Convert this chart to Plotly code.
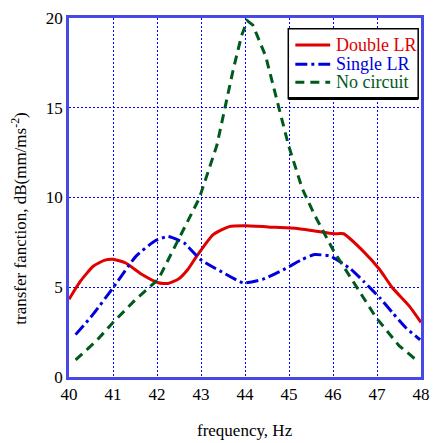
import plotly.graph_objects as go

# Double LR
red_f = [40.0, 40.26, 40.55, 40.8, 41.0, 41.29, 41.66, 42.03, 42.25, 42.48, 42.70, 42.90, 43.27, 43.64,
         44.01, 44.68, 45.14, 45.58, 46.02, 46.24, 46.69, 47.06, 47.35, 47.73, 48.0]
red_v = [4.33, 5.34, 6.17, 6.5, 6.56, 6.35, 5.71, 5.25, 5.21, 5.44, 5.99, 6.72, 7.92, 8.38,
         8.42, 8.34, 8.29, 8.14, 7.98, 7.98, 7.0, 5.99, 4.97, 3.96, 3.04]

# Single LR
blue_f = [40.15, 40.55, 41.0, 41.52, 41.96, 42.25, 42.62, 42.99, 43.44, 43.96, 44.40, 44.92,
          45.29, 45.58, 45.95, 46.39, 46.69, 47.06, 47.35, 47.65, 47.98]
blue_v = [2.36, 3.5, 4.97, 6.72, 7.59, 7.83, 7.46, 6.54, 5.9, 5.25, 5.44, 6.04,
          6.54, 6.82, 6.72, 6.04, 5.34, 4.42, 3.59, 2.76, 2.07]

# No circuit
green_f = [40.15, 40.63, 41.0, 41.52, 42.03, 42.4, 42.7, 42.96, 43.36, 43.55, 43.73, 43.92, 44.05,
           44.18, 44.47, 44.77, 44.99, 45.3, 45.58, 46.02, 46.54, 46.98, 47.5, 47.95]
green_v = [0.95, 2.03, 3.04, 4.33, 5.44, 7.2, 8.7, 9.95, 12.9, 15.0, 17.1, 19.0, 19.85,
           19.6, 17.87, 15.0, 12.9, 10.5, 9.03, 7.0, 4.97, 3.31, 1.75, 0.83]

series_names = ["Double LR", "Single LR", "No circuit"]
colors = ["#e00000", "#0000dd", "#005a1e"]
dashes = ["solid", "12px,4px,3px,4px", "9px,6px"]

x_ticks = [40, 41, 42, 43, 44, 45, 46, 47, 48]
y_ticks = [0, 5, 10, 15, 20]
x_title = "frequency, Hz"
y_title = "transfer fanction, dB(mm/ms<sup>-2</sup>)"

font = "Liberation Serif, Times New Roman, serif"

fig = go.Figure()
fig.add_trace(go.Scatter(x=red_f, y=red_v, mode="lines", name=series_names[0],
                         line=dict(color=colors[0], width=3, shape="spline", smoothing=0.5)))
fig.add_trace(go.Scatter(x=blue_f, y=blue_v, mode="lines", name=series_names[1],
                         line=dict(color=colors[1], width=3, dash=dashes[1],
                                   shape="spline", smoothing=0.5)))
fig.add_trace(go.Scatter(x=green_f, y=green_v, mode="lines", name=series_names[2],
                         line=dict(color=colors[2], width=3, dash=dashes[2])))

axis_common = dict(
    showgrid=True, gridcolor="#0000ff", gridwidth=1, griddash="2px,2px",
    showline=True, linecolor="#4848e8", linewidth=2.5, mirror=True,
    ticks="", zeroline=False,
    tickfont=dict(family=font, size=17, color="black"),
)

fig.update_xaxes(range=[40, 48], tickvals=x_ticks, **axis_common)
fig.update_yaxes(range=[0, 20], tickvals=y_ticks, **axis_common)

# Manual legend (box, line samples, coloured labels) in paper coordinates
box_x0, box_x1, box_y0, box_y1 = 0.623, 0.992, 0.776, 0.970
sample_x0, sample_x1, text_x = 0.643, 0.742, 0.752
row_y = [0.925, 0.871, 0.821]

shapes = [
    dict(type="rect", xref="paper", yref="paper", x0=box_x0, x1=box_x1, y0=box_y0, y1=box_y1,
         line=dict(color="black", width=1.5), fillcolor="white", layer="above"),
    dict(type="line", xref="paper", yref="paper", x0=box_x0, x1=box_x1, y0=box_y0, y1=box_y0,
         line=dict(color="black", width=3), layer="above"),
]
annotations = []
for name, c, d, ry in zip(series_names, colors, dashes, row_y):
    shapes.append(dict(type="line", xref="paper", yref="paper", x0=sample_x0, x1=sample_x1,
                       y0=ry, y1=ry, line=dict(color=c, width=3, dash=d), layer="above"))
    annotations.append(dict(xref="paper", yref="paper", x=text_x, y=ry, text=name,
                            showarrow=False, xanchor="left", yanchor="middle",
                            font=dict(family=font, size=18, color=c)))

# axis titles
annotations.append(dict(xref="paper", yref="paper", x=0.5, y=-0.149, text=x_title,
                        showarrow=False, xanchor="center", yanchor="middle",
                        font=dict(family=font, size=17, color="black")))
annotations.append(dict(xref="paper", yref="paper", x=-0.141, y=0.442, text=y_title,
                        showarrow=False, xanchor="center", yanchor="middle", textangle=-90,
                        font=dict(family=font, size=17, color="black")))

fig.update_layout(
    width=439, height=443,
    margin=dict(l=69, r=9, t=15, b=66),
    plot_bgcolor="white", paper_bgcolor="white",
    font=dict(family=font, size=17, color="black"),
    showlegend=False,
    shapes=shapes,
    annotations=annotations,
)

fig.write_html("out.html",
               config={"displayModeBar": False},
               post_script="document.body.style.margin='0';document.documentElement.style.overflow='hidden';")
